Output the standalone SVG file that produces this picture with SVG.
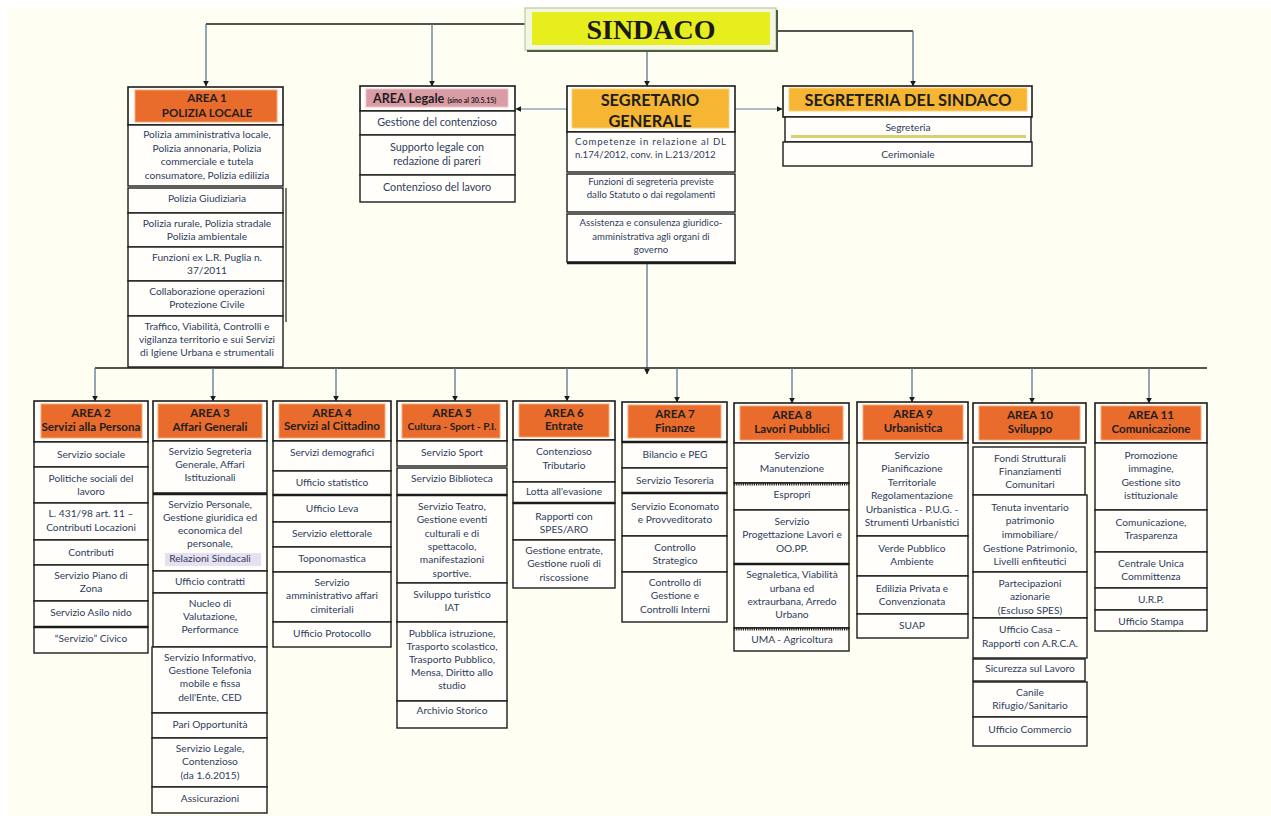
<svg xmlns="http://www.w3.org/2000/svg" width="1271" height="816" viewBox="0 0 1271 816">
<defs>
<marker id="ah" viewBox="0 0 10 10" refX="9" refY="5" markerWidth="6" markerHeight="6" markerUnits="userSpaceOnUse" orient="auto"><path d="M0,0 L10,5 L0,10 z" fill="#1a1a1a"/></marker>
<style>
.cell{fill:#fffefa;stroke:#1c1c1c;stroke-width:1.4}
.frame{fill:#fffefa;stroke:#1c1c1c;stroke-width:1.6}
.orange{fill:#e96c2c;stroke:#f3a870;stroke-width:1}
.gold{fill:#f6b634;stroke:#f8d079;stroke-width:1}
.pink{fill:#d99ba4;stroke:#ecc4ca;stroke-width:1}
.thick{stroke:#1c1c1c;stroke-width:2.6}
.hatch{stroke:#1c1c1c;stroke-width:3;stroke-dasharray:1.2 1}
.h{font-family:Lato,"Liberation Sans",sans-serif;font-weight:bold;font-size:11.6px;fill:#1e1e1e;text-anchor:middle}
.hb{font-family:Lato,"Liberation Sans",sans-serif;font-weight:bold;font-size:16.4px;fill:#1e1e1e;text-anchor:middle}
.t{font-family:Lato,"Liberation Sans",sans-serif;font-size:10.2px;fill:#2e3d5c;text-anchor:middle}
.ts{font-family:Lato,"Liberation Sans",sans-serif;font-size:9.6px;fill:#2e3d5c;text-anchor:middle}
.tl{font-family:Lato,"Liberation Sans",sans-serif;font-size:10.8px;fill:#2e3d5c;text-anchor:middle}
.line{fill:none;stroke:#1a1a1a;stroke-width:1.4}
.drop{fill:none;stroke:#56768f;stroke-width:1.3;marker-end:url(#ah)}
.side{fill:none;stroke:#8fa7bb;stroke-width:1.3;marker-end:url(#ah)}
</style>
</defs>
<rect x="0" y="0" width="1271" height="816" fill="#ffffff"/>
<rect x="7" y="7" width="1264" height="809" fill="#fffef3"/>

<g id="connectors">
<path class="line" d="M525,24 H206"/>
<path class="drop" d="M206,24 V86"/>
<path class="drop" d="M432,24 V86"/>
<path class="line" d="M776,31 H913"/>
<path class="drop" d="M913,31 V86"/>
<path class="drop" d="M647,50 V86"/>
<path class="side" d="M567,109 H516"/>
<path class="side" d="M735,109 H782"/>
<path class="drop" d="M647,263 V374"/>
<path class="line" d="M95,368 H1207"/>
<path class="drop" d="M95,368 V401"/>
<path class="drop" d="M213,368 V401"/>
<path class="drop" d="M336,368 V401"/>
<path class="drop" d="M455,368 V401"/>
<path class="drop" d="M567,368 V401"/>
<path class="drop" d="M677,368 V402"/>
<path class="drop" d="M792,368 V403"/>
<path class="drop" d="M912,368 V402"/>
<path class="drop" d="M1032,368 V403"/>
<path class="drop" d="M1149,368 V403"/>
</g>

<g id="sindaco">
<rect x="525" y="8" width="251" height="42" fill="#f3f6e2" stroke="#b9cba0" stroke-width="1.2"/>
<path d="M527,51 H777 V10" fill="none" stroke="#4e5d45" stroke-width="2"/>
<rect x="532" y="12" width="238" height="33" fill="#e6ee1e"/>
<text x="651" y="39" font-family="'Liberation Serif',serif" font-weight="bold" font-size="28" fill="#1a1a1a" text-anchor="middle">SINDACO</text>
</g>

<g id="area1">
<rect class="frame" x="128" y="87" width="155" height="38"/>
<rect class="orange" x="135" y="90" width="142" height="32"/>
<text class="h"><tspan x="207" y="102">AREA 1</tspan><tspan x="207" y="117">POLIZIA LOCALE</tspan></text>
<rect class="cell" x="128" y="125" width="155" height="61"/>
<text class="t"><tspan x="207" y="138">Polizia amministrativa locale,</tspan><tspan x="207" y="152">Polizia annonaria, Polizia</tspan><tspan x="207" y="165">commerciale e tutela</tspan><tspan x="207" y="179">consumatore, Polizia edilizia</tspan></text>
<rect class="cell" x="128" y="188" width="155" height="25"/>
<text class="t" x="207" y="202">Polizia Giudiziaria</text>
<rect class="cell" x="128" y="213" width="155" height="34"/>
<text class="t"><tspan x="207" y="227">Polizia rurale, Polizia stradale</tspan><tspan x="207" y="240">Polizia ambientale</tspan></text>
<rect class="cell" x="128" y="247" width="155" height="34"/>
<text class="t"><tspan x="207" y="261">Funzioni ex L.R. Puglia n.</tspan><tspan x="207" y="274">37/2011</tspan></text>
<rect class="cell" x="128" y="281" width="155" height="35"/>
<text class="t"><tspan x="207" y="295">Collaborazione operazioni</tspan><tspan x="207" y="308">Protezione Civile</tspan></text>
<rect class="cell" x="128" y="316" width="155" height="51"/>
<text class="t"><tspan x="207" y="330">Traffico, Viabilità, Controlli e</tspan><tspan x="207" y="343">vigilanza territorio e sui Servizi</tspan><tspan x="207" y="356">di Igiene Urbana e strumentali</tspan></text>
<line x1="286" y1="188" x2="286" y2="322" stroke="#1c1c1c" stroke-width="1.2"/>
</g>

<g id="area-legale">
<rect class="frame" x="360" y="86" width="155" height="25"/>
<rect class="pink" x="366" y="89" width="142" height="18"/>
<text font-family="Lato,'Liberation Sans',sans-serif" font-weight="bold" font-size="12.6" fill="#1e1e1e" x="373" y="103">AREA Legale <tspan font-size="7">(sino al 30.5.15)</tspan></text>
<rect class="cell" x="360" y="111" width="155" height="24"/>
<text class="tl" x="437" y="126">Gestione del contenzioso</text>
<rect class="cell" x="360" y="135" width="155" height="40"/>
<text class="tl"><tspan x="437" y="151">Supporto legale con</tspan><tspan x="437" y="165">redazione di pareri</tspan></text>
<rect class="cell" x="360" y="175" width="155" height="27"/>
<text class="tl" x="437" y="191">Contenzioso del lavoro</text>
</g>

<g id="segretario">
<rect class="frame" x="567" y="86" width="168" height="46"/>
<rect class="gold" x="572" y="89" width="157" height="39"/>
<text class="hb"><tspan x="650" y="106">SEGRETARIO</tspan><tspan x="650" y="127">GENERALE</tspan></text>
<rect class="cell" x="567" y="132" width="168" height="40"/>
<text class="ts" text-anchor="start" x="575" y="145" textLength="151" lengthAdjust="spacing" style="text-anchor:start">Competenze in relazione al DL</text>
<text class="ts" x="575" y="158" style="text-anchor:start">n.174/2012, conv. in L.213/2012</text>
<rect class="cell" x="567" y="174" width="168" height="38"/>
<text class="ts"><tspan x="651" y="185">Funzioni di segreteria previste</tspan><tspan x="651" y="198">dallo Statuto o dai regolamenti</tspan></text>
<rect class="cell" x="567" y="214" width="168" height="48"/>
<text class="ts"><tspan x="651" y="226">Assistenza e consulenza giuridico-</tspan><tspan x="651" y="240">amministrativa agli organi di</tspan><tspan x="651" y="253">governo</tspan></text>
<line x1="567" y1="263" x2="736" y2="263" stroke="#1c1c1c" stroke-width="2.6"/>
</g>

<g id="segreteria-sindaco">
<rect class="frame" x="783" y="86" width="249" height="31"/>
<rect class="gold" x="789" y="88" width="238" height="23"/>
<text class="hb" x="908" y="106">SEGRETERIA DEL SINDACO</text>
<rect class="cell" x="785" y="117" width="246" height="25"/>
<rect x="791" y="135" width="235" height="3" fill="#d8d070"/>
<text class="t" x="908" y="131">Segreteria</text>
<rect class="cell" x="783" y="142" width="249" height="24"/>
<text class="t" x="908" y="158">Cerimoniale</text>
</g>

<g id="area2">
<rect class="frame" x="34" y="401" width="114" height="41"/>
<rect class="orange" x="41" y="404" width="101" height="34"/>
<text class="h"><tspan x="91" y="417">AREA 2</tspan><tspan x="91" y="431">Servizi alla Persona</tspan></text>
<rect class="cell" x="34" y="442" width="114" height="25"/>
<text class="t" x="91" y="458">Servizio sociale</text>
<rect class="cell" x="34" y="467" width="114" height="36"/>
<text class="t"><tspan x="91" y="482">Politiche sociali del</tspan><tspan x="91" y="495">lavoro</tspan></text>
<rect class="cell" x="34" y="503" width="114" height="37"/>
<text class="t"><tspan x="91" y="517">L. 431/98 art. 11 –</tspan><tspan x="91" y="531">Contributi Locazioni</tspan></text>
<rect class="cell" x="34" y="540" width="114" height="25"/>
<text class="t" x="91" y="556">Contributi</text>
<rect class="cell" x="34" y="565" width="114" height="36"/>
<text class="t"><tspan x="91" y="579">Servizio Piano di</tspan><tspan x="91" y="592">Zona</tspan></text>
<rect class="cell" x="34" y="601" width="114" height="26"/>
<text class="t" x="91" y="616">Servizio Asilo nido</text>
<rect class="cell" x="34" y="627" width="114" height="26"/>
<line class="thick" x1="34" y1="627" x2="148" y2="627"/>
<text class="t" x="91" y="642">“Servizio” Civico</text>
</g>

<g id="area3">
<rect class="frame" x="153" y="401" width="114" height="40"/>
<rect class="orange" x="158" y="404" width="104" height="34"/>
<text class="h"><tspan x="210" y="417">AREA  3</tspan><tspan x="210" y="431">Affari Generali</tspan></text>
<rect class="cell" x="153" y="441" width="114" height="52"/>
<text class="t"><tspan x="210" y="455">Servizio Segreteria</tspan><tspan x="210" y="468">Generale, Affari</tspan><tspan x="210" y="481">Istituzionali</tspan></text>
<rect class="cell" x="153" y="494" width="114" height="77"/>
<line class="thick" x1="153" y1="494" x2="267" y2="494"/>
<rect x="165" y="553" width="96" height="13" fill="#e6e0f0"/>
<text class="t"><tspan x="210" y="508">Servizio Personale,</tspan><tspan x="210" y="521">Gestione giuridica ed</tspan><tspan x="210" y="534">economica del</tspan><tspan x="210" y="547">personale,</tspan><tspan x="210" y="562">Relazioni Sindacali</tspan></text>
<rect class="cell" x="153" y="571" width="114" height="22"/>
<text class="t" x="210" y="585">Ufficio contratti</text>
<rect class="cell" x="153" y="593" width="114" height="54"/>
<text class="t"><tspan x="210" y="607">Nucleo di</tspan><tspan x="210" y="620">Valutazione,</tspan><tspan x="210" y="633">Performance</tspan></text>
<rect class="cell" x="152" y="647" width="115" height="66"/>
<text class="t"><tspan x="210" y="661">Servizio Informativo,</tspan><tspan x="210" y="674">Gestione Telefonia</tspan><tspan x="210" y="687">mobile e fissa</tspan><tspan x="210" y="701">dell'Ente, CED</tspan></text>
<rect class="cell" x="152" y="713" width="115" height="25"/>
<text class="t" x="210" y="728">Pari Opportunità</text>
<rect class="cell" x="152" y="738" width="115" height="49"/>
<text class="t"><tspan x="210" y="752">Servizio Legale,</tspan><tspan x="210" y="765">Contenzioso</tspan><tspan x="210" y="779">(da 1.6.2015)</tspan></text>
<rect class="cell" x="152" y="787" width="115" height="26"/>
<text class="t" x="210" y="802">Assicurazioni</text>
</g>

<g id="area4">
<rect class="frame" x="273" y="401" width="118" height="40"/>
<rect class="orange" x="279" y="404" width="106" height="34"/>
<text class="h"><tspan x="332" y="417">AREA 4</tspan><tspan x="332" y="430">Servizi al Cittadino</tspan></text>
<rect class="cell" x="273" y="441" width="118" height="30"/>
<text class="t" x="332" y="456">Servizi  demografici</text>
<rect class="cell" x="273" y="471" width="118" height="24"/>
<text class="t" x="332" y="486">Ufficio statistico</text>
<rect class="cell" x="273" y="495" width="118" height="27"/>
<line class="thick" x1="273" y1="495" x2="391" y2="495"/>
<text class="t" x="332" y="512">Ufficio Leva</text>
<rect class="cell" x="273" y="522" width="118" height="25"/>
<text class="t" x="332" y="537">Servizio elettorale</text>
<rect class="cell" x="273" y="547" width="118" height="25"/>
<text class="t" x="332" y="562">Toponomastica</text>
<rect class="cell" x="273" y="572" width="118" height="50"/>
<text class="t"><tspan x="332" y="586">Servizio</tspan><tspan x="332" y="599">amministrativo affari</tspan><tspan x="332" y="613">cimiteriali</tspan></text>
<rect class="cell" x="273" y="622" width="118" height="25"/>
<text class="t" x="332" y="637">Ufficio Protocollo</text>
</g>

<g id="area5">
<rect class="frame" x="397" y="401" width="110" height="40"/>
<rect class="orange" x="402" y="404" width="98" height="34"/>
<text class="h"><tspan x="452" y="417">AREA 5</tspan><tspan x="452" y="430" font-size="10.2">Cultura - Sport - P.I.</tspan></text>
<rect class="cell" x="397" y="441" width="110" height="25"/>
<text class="t" x="452" y="456">Servizio Sport</text>
<rect class="cell" x="397" y="468" width="110" height="27"/>
<text class="t" x="452" y="482">Servizio Biblioteca</text>
<rect class="cell" x="397" y="495" width="110" height="88"/>
<line class="thick" x1="397" y1="495" x2="507" y2="495"/>
<text class="t"><tspan x="452" y="510">Servizio Teatro,</tspan><tspan x="452" y="523">Gestione eventi</tspan><tspan x="452" y="537">culturali e di</tspan><tspan x="452" y="550">spettacolo,</tspan><tspan x="452" y="563">manifestazioni</tspan><tspan x="452" y="577">sportive.</tspan></text>
<rect class="cell" x="397" y="583" width="110" height="39"/>
<text class="t"><tspan x="452" y="598">Sviluppo turistico</tspan><tspan x="452" y="611">IAT</tspan></text>
<rect class="cell" x="397" y="622" width="110" height="79"/>
<text class="t"><tspan x="452" y="637">Pubblica istruzione,</tspan><tspan x="452" y="650">Trasporto scolastico,</tspan><tspan x="452" y="663">Trasporto Pubblico,</tspan><tspan x="452" y="676">Mensa, Diritto allo</tspan><tspan x="452" y="689">studio</tspan></text>
<rect class="cell" x="397" y="701" width="110" height="27"/>
<text class="t" x="452" y="714">Archivio Storico</text>
</g>

<g id="area6">
<rect class="frame" x="513" y="401" width="102" height="39"/>
<rect class="orange" x="519" y="404" width="90" height="33"/>
<text class="h"><tspan x="564" y="417">AREA 6</tspan><tspan x="564" y="430">Entrate</tspan></text>
<rect class="cell" x="513" y="440" width="102" height="42"/>
<text class="t"><tspan x="564" y="455">Contenzioso</tspan><tspan x="564" y="469">Tributario</tspan></text>
<rect class="cell" x="513" y="482" width="102" height="21"/>
<text class="t" x="564" y="495">Lotta all'evasione</text>
<rect class="cell" x="513" y="503" width="102" height="37"/>
<line class="thick" x1="513" y1="503" x2="615" y2="503"/>
<text class="t"><tspan x="564" y="520">Rapporti con</tspan><tspan x="564" y="533">SPES/ARO</tspan></text>
<rect class="cell" x="513" y="540" width="102" height="48"/>
<text class="t"><tspan x="564" y="554">Gestione entrate,</tspan><tspan x="564" y="567">Gestione ruoli di</tspan><tspan x="564" y="581">riscossione</tspan></text>
</g>

<g id="area7">
<rect class="frame" x="622" y="402" width="105" height="40"/>
<rect class="orange" x="628" y="405" width="93" height="33"/>
<text class="h"><tspan x="675" y="418">AREA 7</tspan><tspan x="675" y="432">Finanze</tspan></text>
<rect class="cell" x="622" y="442" width="105" height="26"/>
<line class="thick" x1="622" y1="442" x2="727" y2="442"/>
<text class="t" x="675" y="458">Bilancio e PEG</text>
<rect class="cell" x="622" y="468" width="105" height="25"/>
<text class="t" x="675" y="484">Servizio Tesoreria</text>
<rect class="cell" x="622" y="493" width="105" height="43"/>
<line class="thick" x1="622" y1="493" x2="727" y2="493"/>
<text class="t"><tspan x="675" y="510">Servizio Economato</tspan><tspan x="675" y="523">e Provveditorato</tspan></text>
<rect class="cell" x="622" y="536" width="105" height="36"/>
<text class="t"><tspan x="675" y="551">Controllo</tspan><tspan x="675" y="564">Strategico</tspan></text>
<rect class="cell" x="622" y="572" width="105" height="50"/>
<text class="t"><tspan x="675" y="586">Controllo di</tspan><tspan x="675" y="599">Gestione e</tspan><tspan x="675" y="613">Controlli Interni</tspan></text>
</g>

<g id="area8">
<rect class="frame" x="734" y="403" width="115" height="40"/>
<rect class="orange" x="740" y="406" width="103" height="34"/>
<text class="h"><tspan x="792" y="419">AREA 8</tspan><tspan x="792" y="433">Lavori Pubblici</tspan></text>
<rect class="cell" x="734" y="443" width="115" height="40"/>
<text class="t"><tspan x="792" y="459">Servizio</tspan><tspan x="792" y="472">Manutenzione</tspan></text>
<rect class="cell" x="734" y="483" width="115" height="27"/>
<line class="hatch" x1="734" y1="484" x2="849" y2="484"/>
<text class="t" x="792" y="498">Espropri</text>
<rect class="cell" x="734" y="510" width="115" height="54"/>
<text class="t"><tspan x="792" y="525">Servizio</tspan><tspan x="792" y="538">Progettazione Lavori e</tspan><tspan x="792" y="552">OO.PP.</tspan></text>
<rect class="cell" x="734" y="564" width="115" height="64"/>
<line class="thick" x1="734" y1="564" x2="849" y2="564"/>
<text class="t"><tspan x="792" y="578">Segnaletica, Viabilità</tspan><tspan x="792" y="592">urbana ed</tspan><tspan x="792" y="605">extraurbana, Arredo</tspan><tspan x="792" y="618">Urbano</tspan></text>
<rect class="cell" x="734" y="628" width="115" height="23"/>
<line class="hatch" x1="734" y1="629" x2="849" y2="629"/>
<text class="t" x="792" y="643">UMA - Agricoltura</text>
</g>

<g id="area9">
<rect class="frame" x="857" y="402" width="111" height="41"/>
<rect class="orange" x="863" y="405" width="100" height="35"/>
<text class="h"><tspan x="913" y="418">AREA 9</tspan><tspan x="913" y="432">Urbanistica</tspan></text>
<rect class="cell" x="857" y="443" width="111" height="93"/>
<text class="t"><tspan x="912" y="459">Servizio</tspan><tspan x="912" y="472">Pianificazione</tspan><tspan x="912" y="486">Territoriale</tspan><tspan x="912" y="499">Regolamentazione</tspan><tspan x="912" y="513">Urbanistica - P.U.G. -</tspan><tspan x="912" y="526">Strumenti Urbanistici</tspan></text>
<rect class="cell" x="857" y="536" width="111" height="40"/>
<text class="t"><tspan x="912" y="552">Verde Pubblico</tspan><tspan x="912" y="565">Ambiente</tspan></text>
<rect class="cell" x="857" y="576" width="111" height="38"/>
<text class="t"><tspan x="912" y="592">Edilizia Privata e</tspan><tspan x="912" y="605">Convenzionata</tspan></text>
<rect class="cell" x="857" y="614" width="111" height="24"/>
<text class="t" x="912" y="629">SUAP</text>
</g>

<g id="area10">
<rect class="frame" x="973" y="403" width="113" height="40"/>
<rect class="orange" x="979" y="406" width="101" height="34"/>
<text class="h"><tspan x="1030" y="419">AREA 10</tspan><tspan x="1030" y="433">Sviluppo</tspan></text>
<rect class="cell" x="973" y="447" width="112" height="48"/>
<text class="t"><tspan x="1030" y="462">Fondi Strutturali</tspan><tspan x="1030" y="475">Finanziamenti</tspan><tspan x="1030" y="488">Comunitari</tspan></text>
<rect class="cell" x="973" y="495" width="114" height="77"/>
<text class="t"><tspan x="1030" y="511">Tenuta inventario</tspan><tspan x="1030" y="524">patrimonio</tspan><tspan x="1030" y="538">immobiliare/</tspan><tspan x="1030" y="552">Gestione Patrimonio,</tspan><tspan x="1030" y="565">Livelli enfiteutici</tspan></text>
<rect class="cell" x="973" y="572" width="114" height="46"/>
<text class="t"><tspan x="1030" y="587">Partecipazioni</tspan><tspan x="1030" y="600">azionarie</tspan><tspan x="1030" y="614">(Escluso SPES)</tspan></text>
<rect class="cell" x="973" y="618" width="114" height="40"/>
<text class="t"><tspan x="1030" y="633">Ufficio Casa –</tspan><tspan x="1030" y="647">Rapporti con A.R.C.A.</tspan></text>
<rect class="cell" x="973" y="659" width="112" height="22"/>
<text class="t" x="1030" y="672">Sicurezza sul Lavoro</text>
<rect class="cell" x="973" y="682" width="114" height="35"/>
<text class="t"><tspan x="1030" y="696">Canile</tspan><tspan x="1030" y="709">Rifugio/Sanitario</tspan></text>
<rect class="cell" x="973" y="717" width="114" height="29"/>
<text class="t" x="1030" y="733">Ufficio Commercio</text>
</g>

<g id="area11">
<rect class="frame" x="1095" y="403" width="112" height="40"/>
<rect class="orange" x="1101" y="406" width="100" height="34"/>
<text class="h"><tspan x="1151" y="419">AREA 11</tspan><tspan x="1151" y="433">Comunicazione</tspan></text>
<rect class="cell" x="1095" y="443" width="112" height="67"/>
<text class="t"><tspan x="1151" y="459">Promozione</tspan><tspan x="1151" y="472">immagine,</tspan><tspan x="1151" y="486">Gestione sito</tspan><tspan x="1151" y="499">istituzionale</tspan></text>
<rect class="cell" x="1095" y="510" width="112" height="42"/>
<text class="t"><tspan x="1151" y="526">Comunicazione,</tspan><tspan x="1151" y="539">Trasparenza</tspan></text>
<rect class="cell" x="1095" y="552" width="112" height="36"/>
<text class="t"><tspan x="1151" y="567">Centrale Unica</tspan><tspan x="1151" y="580">Committenza</tspan></text>
<rect class="cell" x="1095" y="588" width="112" height="22"/>
<text class="t" x="1151" y="603">U.R.P.</text>
<rect class="cell" x="1095" y="610" width="112" height="21"/>
<text class="t" x="1151" y="625">Ufficio Stampa</text>
</g>
</svg>
